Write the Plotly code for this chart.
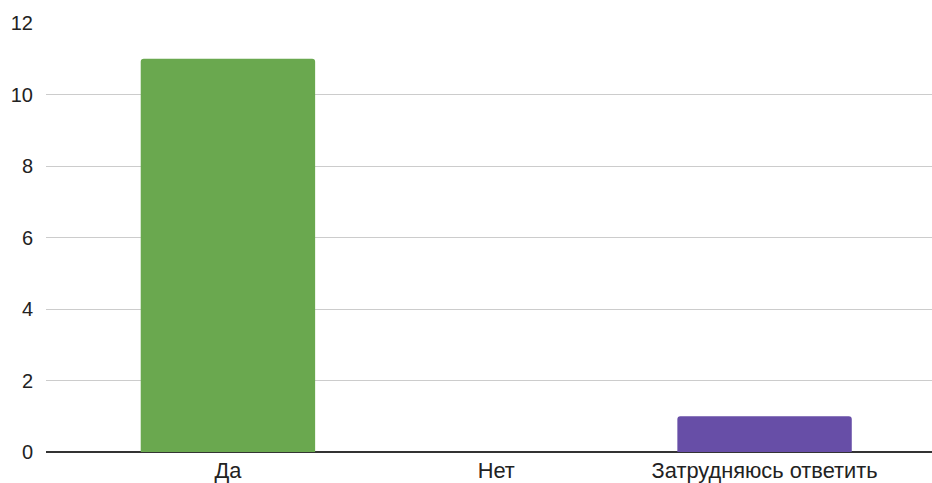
import plotly.graph_objects as go

categories = ["Да", "Нет", "Затрудняюсь ответить"]
values = [11, 0, 1]
colors = ["#6aa84f", "#6aa84f", "#674ea7"]
y_ticks = [0, 2, 4, 6, 8, 10, 12]

fig = go.Figure(go.Bar(
    x=categories, y=values, marker=dict(color=colors, line=dict(width=0)),
    width=0.65,
))
fig.update_layout(
    width=932, height=483,
    margin=dict(l=46, r=0, t=23, b=31),
    paper_bgcolor="white", plot_bgcolor="white",
    font=dict(family="Liberation Sans, Arial, sans-serif", size=20, color="#222222"),
    barcornerradius=3,
    showlegend=False,
    xaxis=dict(range=[-0.678, 2.624], showgrid=False, ticks="", showline=False,
               zeroline=False, tickfont=dict(size=21.8), ticklabelstandoff=3),
    yaxis=dict(range=[0, 12], tickvals=y_ticks, showgrid=True, gridcolor="#cccccc",
               gridwidth=1, zeroline=True, zerolinecolor="#333333", zerolinewidth=1.5,
               ticks="", ticklabelstandoff=12, tickfont=dict(size=20)),
)
fig.write_html("out.html", config={"displayModeBar": False},
               post_script="document.body.style.margin='0';document.body.style.overflow='hidden';")
